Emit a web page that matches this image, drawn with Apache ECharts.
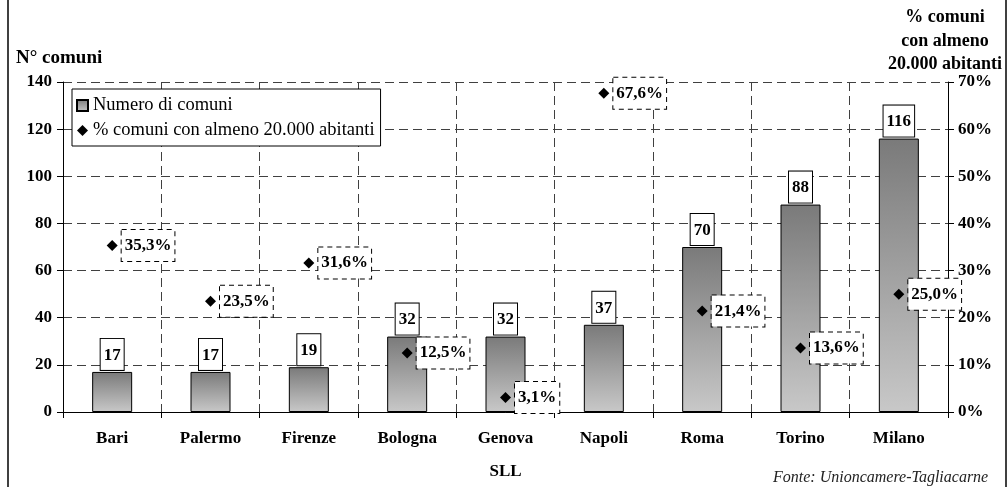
<!DOCTYPE html>
<html>
<head>
<meta charset="utf-8">
<script src="https://cdn.jsdelivr.net/npm/echarts@6/dist/echarts.min.js"></script>
<style>
  html, body { margin: 0; padding: 0; background: #fff; }
  #chart { width: 1008px; height: 487px; }
</style>
</head>
<body>
<div id="chart"></div>
<script>
// Sistemi locali del lavoro (SLL)
const categories = ['Bari', 'Palermo', 'Firenze', 'Bologna', 'Genova', 'Napoli', 'Roma', 'Torino', 'Milano'];
// Numero di comuni per SLL
const numComuni = [17, 17, 19, 32, 32, 37, 70, 88, 116];
// % comuni con almeno 20.000 abitanti
const pctComuni = [35.3, 23.5, 31.6, 12.5, 3.1, 67.6, 21.4, 13.6, 25.0];
// Tick labels
const leftTicks = [0, 20, 40, 60, 80, 100, 120, 140];
const rightTicks = [0, 10, 20, 30, 40, 50, 60, 70];

const FONT = '"Liberation Serif", "DejaVu Serif", serif';
const gridColor = '#404040';

const chart = echarts.init(document.getElementById('chart'), null, { renderer: 'canvas' });

const barGradient = new echarts.graphic.LinearGradient(0, 0, 0, 1, [
  { offset: 0, color: '#7a7a7a' },
  { offset: 1, color: '#c8c8c8' }
]);

const fmtPct = v => v.toFixed(1).replace('.', ',') + '%';

chart.setOption({
  animation: false,
  backgroundColor: '#fff',
  textStyle: { fontFamily: FONT, color: '#000' },
  title: [
    {
      text: 'N° comuni', left: 11, top: 44,
      textStyle: { fontFamily: FONT, fontSize: 19, fontWeight: 'bold', color: '#000' }
    },
    {
      text: 'Fonte: Unioncamere-Tagliacarne', left: 768, top: 465,
      textStyle: { fontFamily: FONT, fontSize: 16, fontStyle: 'italic', fontWeight: 'normal', color: '#222' }
    }
  ],
  graphic: [
    { type: 'line', shape: { x1: 8, y1: 0, x2: 8, y2: 487 }, style: { stroke: '#000', lineWidth: 1.5 } },
    { type: 'line', shape: { x1: 1006, y1: 0, x2: 1006, y2: 487 }, style: { stroke: '#000', lineWidth: 1.5 } },
    // right axis title, three centred lines
    {
      type: 'text', x: 945, y: 6,
      style: {
        text: '% comuni\ncon almeno\n20.000 abitanti',
        font: 'bold 18px "Liberation Serif", "DejaVu Serif", serif',
        fill: '#000', align: 'center', verticalAlign: 'top', lineHeight: 23.5
      }
    }
  ],
  legend: {
    left: 72, top: 89,
    orient: 'vertical',
    backgroundColor: '#fff',
    borderColor: '#000', borderWidth: 1,
    padding: [7, 6, 6, 4],
    itemGap: 6,
    itemWidth: 11, itemHeight: 11,
    textStyle: { fontFamily: FONT, fontSize: 18.5, color: '#000' },
    data: [
      { name: 'Numero di comuni', icon: 'rect' },
      { name: '% comuni con almeno 20.000 abitanti', icon: 'diamond' }
    ]
  },
  grid: { left: 63, right: 60, top: 82, bottom: 75, containLabel: false },
  xAxis: {
    type: 'category',
    data: categories,
    boundaryGap: true,
    name: 'SLL',
    nameLocation: 'middle',
    nameGap: 51,
    nameTextStyle: { fontFamily: FONT, fontSize: 17, fontWeight: 'bold', color: '#000', verticalAlign: 'top' },
    axisLine: { lineStyle: { color: '#000', width: 1 } },
    axisTick: { show: true, length: 6, lineStyle: { color: '#000' } },
    axisLabel: { fontFamily: FONT, fontSize: 17, fontWeight: 'bold', color: '#000', margin: 18 },
    splitLine: { show: true, lineStyle: { color: gridColor, type: [9, 5], width: 1 } }
  },
  yAxis: [
    {
      type: 'value',
      min: leftTicks[0], max: leftTicks[leftTicks.length - 1], interval: leftTicks[1] - leftTicks[0],
      axisLine: { show: true, lineStyle: { color: '#000', width: 1 } },
      axisTick: { show: true, length: 6, lineStyle: { color: '#000' } },
      axisLabel: { fontFamily: FONT, fontSize: 17, fontWeight: 'bold', color: '#000', margin: 11 },
      splitLine: { show: true, lineStyle: { color: gridColor, type: [9, 5], width: 1 } }
    },
    {
      type: 'value',
      min: rightTicks[0], max: rightTicks[rightTicks.length - 1], interval: rightTicks[1] - rightTicks[0],
      position: 'right',
      axisLine: { show: true, lineStyle: { color: '#000', width: 1 } },
      axisTick: { show: true, length: 6, lineStyle: { color: '#000' } },
      axisLabel: { fontFamily: FONT, fontSize: 17, fontWeight: 'bold', color: '#000', margin: 10, formatter: '{value}%' },
      splitLine: { show: false }
    }
  ],
  series: [
    {
      name: 'Numero di comuni',
      type: 'bar',
      yAxisIndex: 0,
      data: numComuni,
      barWidth: 40,
      itemStyle: { color: barGradient, borderColor: '#000', borderWidth: 1 },
      label: {
        show: true,
        position: 'top',
        distance: 2,
        fontFamily: FONT, fontSize: 17, fontWeight: 'bold', color: '#000',
        backgroundColor: '#fff',
        borderColor: '#000', borderWidth: 1,
        padding: [8, 3, 6, 3]
      },
      z: 2
    },
    {
      name: '% comuni con almeno 20.000 abitanti',
      type: 'scatter',
      yAxisIndex: 1,
      data: pctComuni,
      symbol: 'diamond',
      symbolSize: 11,
      itemStyle: { color: '#000', opacity: 1 },
      label: {
        show: true,
        position: 'right',
        distance: 4,
        formatter: p => fmtPct(p.value),
        fontFamily: FONT, fontSize: 17, fontWeight: 'bold', color: '#000',
        backgroundColor: '#fff',
        borderColor: '#000', borderWidth: 1, borderType: [5, 4],
        padding: [8, 3, 6, 3]
      },
      z: 5
    }
  ]
});
</script>
</body>
</html>
